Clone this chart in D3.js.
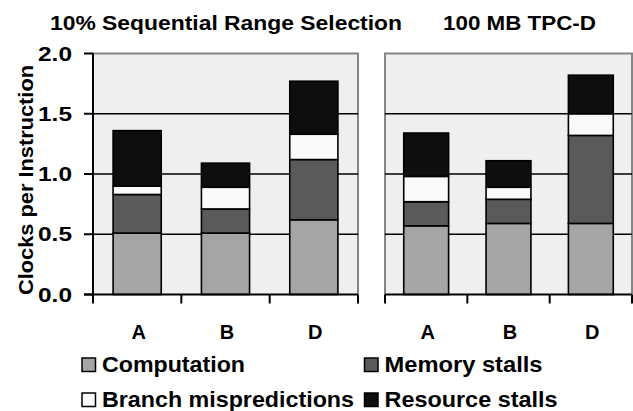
<!DOCTYPE html>
<html>
<head>
<meta charset="utf-8">
<script src="https://cdn.jsdelivr.net/npm/d3@7"></script>
<style>
html,body{margin:0;padding:0;background:#fff;}
svg{display:block;}
text{font-family:"Liberation Sans",Arial,sans-serif;font-weight:bold;fill:#000;}
</style>
</head>
<body>
<svg id="chart" width="633" height="411"></svg>
<script>
// ---- data ----
const categories = ["A", "B", "D"];
const panelTitles = ["10% Sequential Range Selection", "100 MB TPC-D"];
const seriesNames = ["Computation", "Memory stalls", "Branch mispredictions", "Resource stalls"];
// per-panel segment values (CPI contribution), order A, B, D
const computationSeq = [0.51, 0.51, 0.62];
const memorySeq      = [0.32, 0.20, 0.50];
const branchSeq      = [0.07, 0.18, 0.21];
const resourceSeq    = [0.46, 0.20, 0.44];
const computationTpc = [0.57, 0.59, 0.59];
const memoryTpc      = [0.20, 0.20, 0.73];
const branchTpc      = [0.21, 0.10, 0.18];
const resourceTpc    = [0.36, 0.22, 0.32];
const yTicks = [0, 0.5, 1.0, 1.5, 2.0];
const yTitle = "Clocks per Instruction";

// ---- styles ----
const colors = ["#a5a5a5", "#5a5a5a", "#fafafa", "#0e0e0e"];
const plotBg = "#efefef";
const borderColor = "#858585";

const svg = d3.select("#chart");
const y = d3.scaleLinear().domain([0, 2]).range([294.5, 53.5]);

const panels = [
  { title: panelTitles[0], x0: 93, x1: 358, series: [computationSeq, memorySeq, branchSeq, resourceSeq],
    titleX: 50, titleLen: 352, yAxis: true },
  { title: panelTitles[1], x0: 385, x1: 632, series: [computationTpc, memoryTpc, branchTpc, resourceTpc],
    titleX: 443, titleLen: 153, yAxis: false }
];

panels.forEach(p => {
  const g = svg.append("g");
  const x = d3.scaleBand().domain(categories).range([p.x0, p.x1])
    .paddingInner(0.455).paddingOuter(0.2275);
  const step = x.step();

  g.append("rect").attr("x", p.x0).attr("y", y(2)).attr("width", p.x1 - p.x0)
    .attr("height", y(0) - y(2)).attr("fill", plotBg);
  g.append("path")
    .attr("d", `M${p.x0},${y(0)}V${y(2)}H${p.x1}V${y(0)}`)
    .attr("fill", "none").attr("stroke", borderColor).attr("stroke-width", 2);

  g.selectAll(".grid").data(yTicks.filter(t => t > 0 && t < 2)).join("line")
    .attr("x1", p.x0).attr("x2", p.x1).attr("y1", d => y(d)).attr("y2", d => y(d))
    .attr("stroke", "#000").attr("stroke-width", 1.6);

  const rows = categories.map((c, i) => {
    const o = { cat: c };
    seriesNames.forEach((s, k) => o[s] = p.series[k][i]);
    return o;
  });
  const stacked = d3.stack().keys(seriesNames)(rows);
  stacked.forEach((layer, k) => {
    g.selectAll(".seg" + k).data(layer).join("rect")
      .attr("x", d => x(d.data.cat)).attr("width", x.bandwidth())
      .attr("y", d => y(d[1])).attr("height", d => y(d[0]) - y(d[1]))
      .attr("fill", colors[k]).attr("stroke", "#000").attr("stroke-width", 1.6);
  });

  g.append("line").attr("x1", p.yAxis ? p.x0 - 9 : p.x0).attr("x2", p.x1)
    .attr("y1", y(0)).attr("y2", y(0)).attr("stroke", "#000").attr("stroke-width", 2);
  d3.range(categories.length + 1).forEach(i => {
    const tx = p.x0 + i * step;
    g.append("line").attr("x1", tx).attr("x2", tx).attr("y1", y(0)).attr("y2", y(0) + 9)
      .attr("stroke", "#000").attr("stroke-width", 2);
  });
  g.selectAll(".xl").data(categories).join("text")
    .attr("x", d => x(d) + x.bandwidth() / 2 + 1.5).attr("y", 338.5)
    .attr("text-anchor", "middle").attr("font-size", 20).text(d => d);

  g.append("text").attr("x", p.titleX).attr("y", 30).attr("font-size", 20)
    .attr("textLength", p.titleLen).attr("lengthAdjust", "spacingAndGlyphs").text(p.title);

  if (p.yAxis) {
    g.append("line").attr("x1", p.x0).attr("x2", p.x0).attr("y1", y(2)).attr("y2", y(0))
      .attr("stroke", "#000").attr("stroke-width", 2);
    g.selectAll(".yt").data(yTicks).join("line")
      .attr("x1", p.x0 - 9).attr("x2", p.x0).attr("y1", d => y(d)).attr("y2", d => y(d))
      .attr("stroke", "#000").attr("stroke-width", 2);
    g.selectAll(".yl").data(yTicks).join("text")
      .attr("x", 72).attr("y", d => y(d) + 7).attr("text-anchor", "end")
      .attr("font-size", 19.5).attr("textLength", 34).attr("lengthAdjust", "spacingAndGlyphs")
      .text(d => d3.format(".1f")(d));
  }
});

svg.append("text").attr("transform", "translate(33,180) rotate(-90)")
  .attr("text-anchor", "middle").attr("font-size", 20.5)
  .attr("textLength", 230).attr("lengthAdjust", "spacingAndGlyphs").text(yTitle);

const legendPos = [
  { sx: 82, ty: 372, len: 143 },
  { sx: 364.5, ty: 372, len: 158 },
  { sx: 82, ty: 407, len: 252 },
  { sx: 364.5, ty: 407, len: 173 }
];
const lg = svg.append("g");
seriesNames.forEach((s, k) => {
  const lp = legendPos[k];
  lg.append("rect").attr("x", lp.sx).attr("y", lp.ty - 14).attr("width", 13.5).attr("height", 13.5)
    .attr("fill", colors[k]).attr("stroke", "#000").attr("stroke-width", 1.5);
  lg.append("text").attr("x", lp.sx + 20).attr("y", lp.ty).attr("font-size", 21.5)
    .attr("textLength", lp.len).attr("lengthAdjust", "spacingAndGlyphs").text(s);
});
</script>
</body>
</html>
